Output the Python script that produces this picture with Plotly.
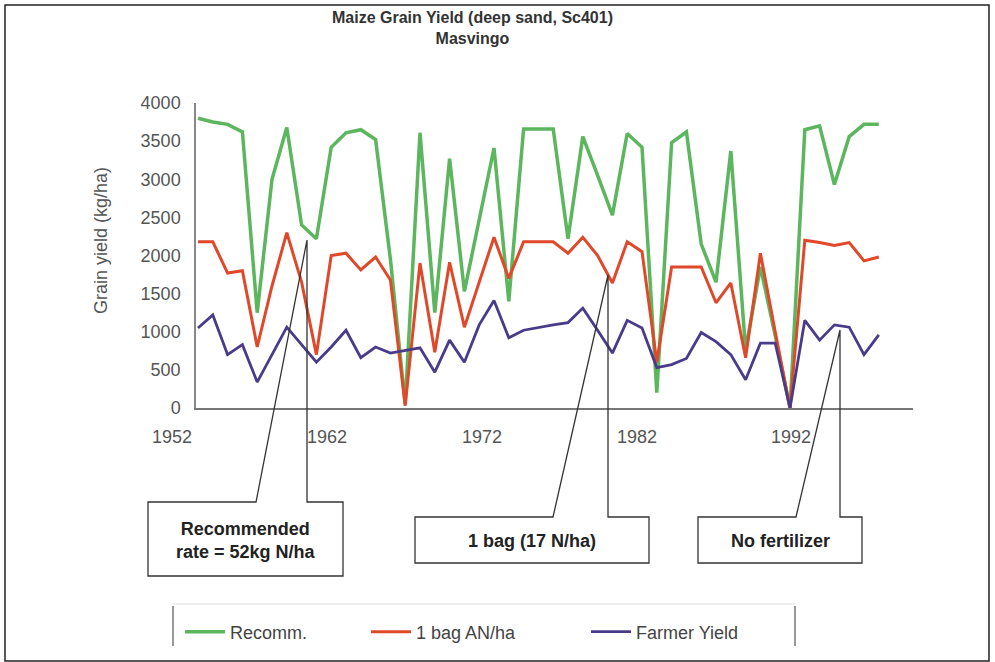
import plotly.graph_objects as go

# ---------------- data ----------------
years = [1952, 1953, 1954, 1955, 1956, 1957, 1958, 1959, 1960, 1961,
         1962, 1963, 1964, 1965, 1966, 1967, 1968, 1969, 1970, 1971,
         1972, 1973, 1974, 1975, 1976, 1977, 1978, 1979, 1980, 1981,
         1982, 1983, 1984, 1985, 1986, 1987, 1988, 1989, 1990, 1991,
         1992, 1993, 1994, 1995, 1996, 1997, 1998]

recomm = [3800, 3750, 3720, 3620, 1250, 3000, 3680, 2400, 2220, 3420,
          3610, 3650, 3520, 1950, 50, 3610, 1250, 3270, 1530, 2450,
          3410, 1400, 3660, 3660, 3660, 2220, 3560, 3050, 2530, 3600,
          3420, 200, 3480, 3620, 2150, 1650, 3370, 760, 1850, 950,
          0, 3650, 3700, 2930, 3560, 3720, 3720]

one_bag = [2180, 2180, 1770, 1800, 800, 1600, 2300, 1650, 700, 2000,
           2030, 1810, 1980, 1680, 30, 1900, 730, 1910, 1060, 1650,
           2240, 1700, 2180, 2180, 2180, 2030, 2240, 2000, 1640, 2180,
           2050, 600, 1850, 1850, 1850, 1380, 1640, 660, 2030, 1000,
           0, 2200, 2170, 2130, 2170, 1930, 1980]

farmer = [1050, 1220, 700, 830, 340, 700, 1060, 830, 600, 800,
          1020, 660, 800, 720, 760, 790, 470, 890, 600, 1090,
          1410, 920, 1020, 1060, 1090, 1120, 1310, 1020, 720, 1150,
          1050, 530, 570, 650, 990, 870, 700, 370, 850, 850,
          0, 1150, 890, 1090, 1060, 700, 960]

series_names = ["Recomm.", "1 bag AN/ha", "Farmer Yield"]
x_tick_labels = ["1952", "1962", "1972", "1982", "1992"]
y_tick_values = [0, 500, 1000, 1500, 2000, 2500, 3000, 3500, 4000]
title_text = "<b>Maize Grain Yield (deep sand, Sc401)<br>Masvingo</b>"
y_title = "Grain yield (kg/ha)"
callout_texts = ["<b>Recommended<br>rate = 52kg N/ha</b>",
                 "<b>1 bag (17 N/ha)</b>",
                 "<b>No fertilizer</b>"]

# ---------------- layout geometry (pixels) ----------------
W, H = 995, 662
L, R, T, B = 196, 82, 103, 254
PW, PH = W - L - R, H - T - B
BASE = H - B


def px(x):
    return (x - L) / PW


def py(y):
    return (BASE - y) / PH


FONT = "Liberation Sans, Arial, sans-serif"
colors = ["#5cb65e", "#e0482a", "#4a3b8a"]
widths = [3.5, 3, 2.8]
legend_ids = ["legend", "legend2", "legend3"]

fig = go.Figure()
for name, vals, c, w, lg in zip(series_names, [recomm, one_bag, farmer],
                                colors, widths, legend_ids):
    fig.add_trace(go.Scatter(x=years, y=vals, mode="lines", name=name,
                             line=dict(color=c, width=w), legend=lg,
                             showlegend=True))

# legends placed individually
leg_x = [180, 366, 586]
legs = {}
for lid, lx in zip(legend_ids, leg_x):
    legs[lid] = dict(x=px(lx), y=py(632), xanchor="left", yanchor="middle",
                     orientation="h", bgcolor="rgba(0,0,0,0)",
                     font=dict(family=FONT, size=18, color="#444"),
                     itemwidth=40)

shapes = []
# outer frame
shapes.append(dict(type="rect", xref="paper", yref="paper",
                   x0=px(5), x1=px(989), y0=py(661), y1=py(5),
                   line=dict(color="#222", width=1.5)))
# legend frame
for xx in (173, 795):
    shapes.append(dict(type="line", xref="paper", yref="paper",
                       x0=px(xx), x1=px(xx), y0=py(606), y1=py(646),
                       line=dict(color="#777", width=1.5)))
shapes.append(dict(type="line", xref="paper", yref="paper",
                   x0=px(173), x1=px(795), y0=py(604), y1=py(604),
                   line=dict(color="#ddd", width=1)))

# callout boxes: (left, top, right, bottom, diag_base_x, vert_x, apex_y)
boxes = [(148, 502, 343, 576, 256, 307, 240),
         (415, 517, 649, 563, 553, 608, 275),
         (698, 517, 862, 563, 796, 840, 330)]
for (l, t, r, b, dx, vx, ay) in boxes:
    pts = [(dx, t), (l, t), (l, b), (r, b), (r, t), (vx, t), (vx, ay)]
    path = "M " + " L ".join(f"{px(a):.5f},{py(c):.5f}" for a, c in pts) + " Z"
    shapes.append(dict(type="path", xref="paper", yref="paper", path=path,
                       line=dict(color="#333", width=1.3),
                       fillcolor="rgba(0,0,0,0)", layer="above"))

annotations = []
# chart title
annotations.append(dict(xref="paper", yref="paper", x=px(472), y=py(7),
                        text=title_text, showarrow=False, xanchor="center",
                        yanchor="top",
                        font=dict(family=FONT, size=16, color="#333")))

for (l, t, r, b, dx, vx, ay), txt in zip(boxes, callout_texts):
    annotations.append(dict(xref="paper", yref="paper", x=px((l + r) / 2),
                            y=py((t + b) / 2 + 1), text=txt, showarrow=False,
                            xanchor="center", yanchor="middle",
                            font=dict(family=FONT, size=18, color="#222")))

# x tick labels (placed where the source chart shows them)
x_label_px = [172, 327, 482, 637, 791]
for lab, xp in zip(x_tick_labels, x_label_px):
    annotations.append(dict(xref="paper", yref="paper", x=px(xp), y=py(437),
                            text=lab, showarrow=False, xanchor="center",
                            yanchor="middle",
                            font=dict(family=FONT, size=18, color="#555")))

# y axis title
annotations.append(dict(xref="paper", yref="paper", x=px(101), y=py(240),
                        text=y_title, textangle=-90,
                        showarrow=False, xanchor="center", yanchor="middle",
                        font=dict(family=FONT, size=18, color="#555")))

fig.update_layout(
    width=W, height=H,
    margin=dict(l=L, r=R, t=T, b=B, autoexpand=False),
    paper_bgcolor="white", plot_bgcolor="white",
    font=dict(family=FONT),
    showlegend=True,
    xaxis=dict(range=[1951.865, 2000.31], showgrid=False, zeroline=False,
               showline=True, linecolor="#777", linewidth=1.5,
               showticklabels=False, ticks=""),
    yaxis=dict(range=[0, 4000], tickvals=y_tick_values, showgrid=False,
               zeroline=False, showline=True, linecolor="#888",
               linewidth=1.5, ticks="", ticklabelstandoff=10,
               tickfont=dict(family=FONT, size=18, color="#555")),
    shapes=shapes,
    annotations=annotations,
    **legs,
)

fig.write_html("out.html")
